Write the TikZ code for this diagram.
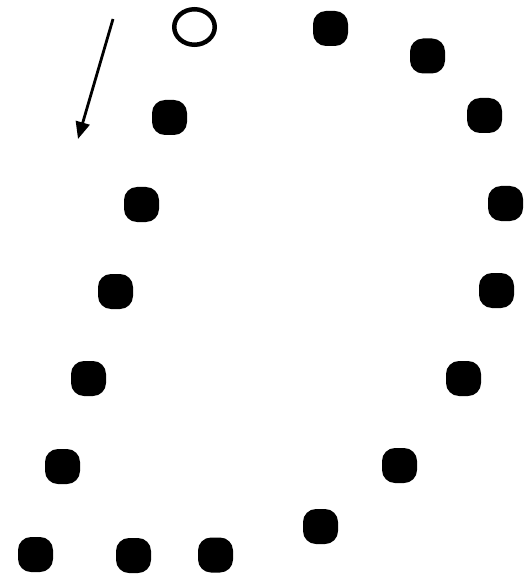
\documentclass[tikz,border=0pt]{standalone}
\usetikzlibrary{arrows.meta,shapes.geometric}
\begin{document}
\begin{tikzpicture}[x=1pt,y=-1pt,
  dot/.style={fill=black,draw=none,rectangle,rounded corners=13pt,minimum width=35pt,minimum height=35pt,inner sep=0pt},
  startmark/.style={ellipse,draw=black,line width=4.5pt,minimum width=40.5pt,minimum height=35.5pt,inner sep=0pt},
  dirarrow/.style={line width=2.8pt,-{Triangle[length=17pt,width=14pt]}}]
\useasboundingbox (0,0) rectangle (526,577);
\node[startmark] (s) at (194.5,27) {};
\node[dot] (r1) at (330.5,28.5) {};
\node[dot] (r2) at (427.5,56) {};
\node[dot] (r3) at (484.5,115.5) {};
\node[dot] (r4) at (505.5,203.5) {};
\node[dot] (r5) at (496.5,290.5) {};
\node[dot] (r6) at (463.5,378.5) {};
\node[dot] (r7) at (399.5,465.5) {};
\node[dot] (r8) at (320.5,526.5) {};
\node[dot] (b1) at (215.5,555) {};
\node[dot] (b2) at (133.5,555.5) {};
\node[dot] (b3) at (35.5,554.5) {};
\node[dot] (l1) at (62.5,466.5) {};
\node[dot] (l2) at (88.5,378.5) {};
\node[dot] (l3) at (115.5,291.5) {};
\node[dot] (l4) at (141.5,204.5) {};
\node[dot] (l5) at (169.5,117.5) {};
\coordinate (a0) at (113,19);
\coordinate (a1) at (78,139);
\draw[dirarrow] (a0) -- (a1);
\end{tikzpicture}
\end{document}
